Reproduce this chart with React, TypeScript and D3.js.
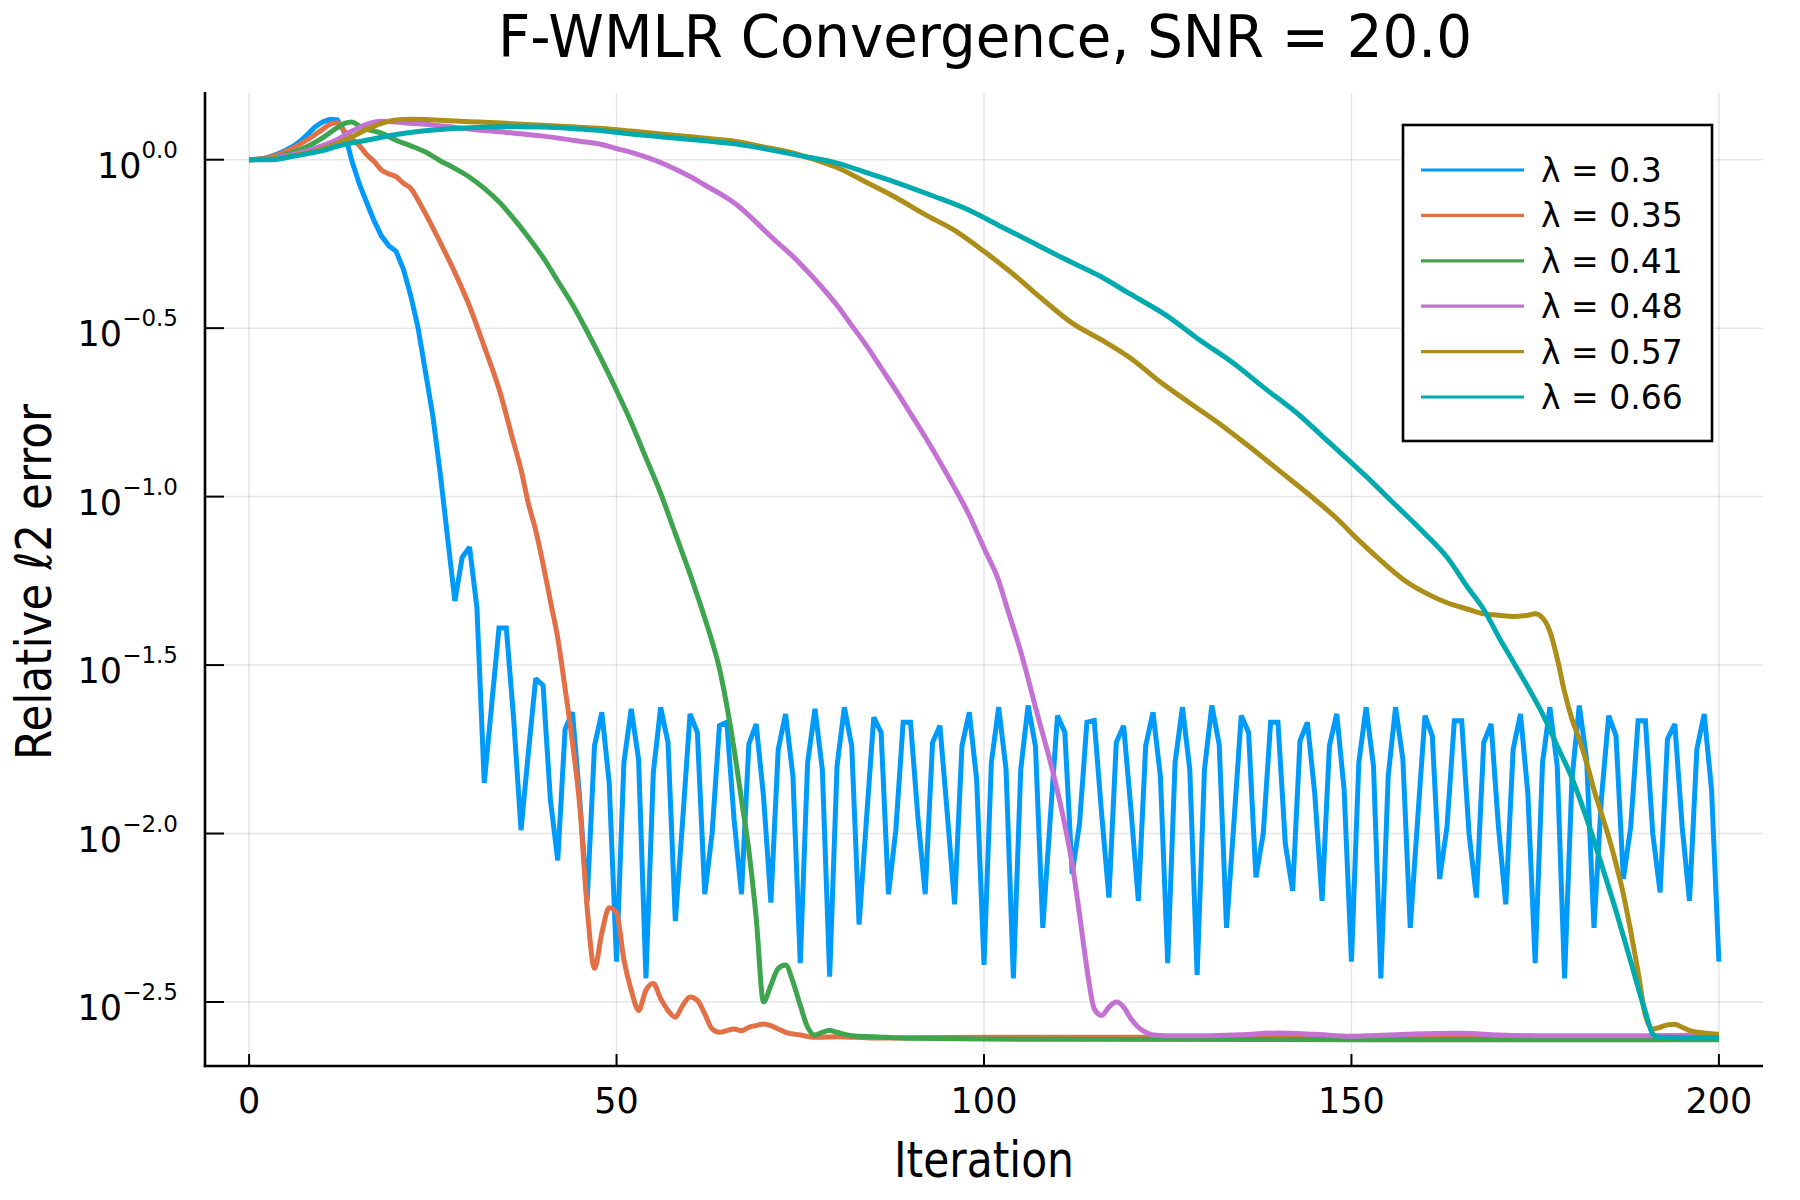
import * as React from 'react';
import * as d3 from 'd3';

// legend / series setup
const lambdas = ['0.3', '0.35', '0.41', '0.48', '0.57', '0.66'];
const colors = ['#009AFA', '#E36F47', '#3EA44E', '#C371D2', '#AC8E18', '#00AAAE'];

const xTicks = [0, 50, 100, 150, 200];
const yTickExps = [0, -0.5, -1, -1.5, -2, -2.5];
const yTickLabels = ['0.0', '\u22120.5', '\u22121.0', '\u22121.5', '\u22122.0', '\u22122.5'];

// log10 of relative error, one value per iteration 0..200 (lambda = 0.3)
const blueLog: number[] = [
  0, 0.001, 0.004, 0.01, 0.018, 0.028, 0.04, 0.056, 0.076, 0.098,
  0.112, 0.12, 0.118, 0.08, -0.005, -0.072, -0.127, -0.181, -0.226, -0.255,
  -0.272, -0.325, -0.404, -0.5, -0.63, -0.76, -0.93, -1.12, -1.31, -1.18,
  -1.15, -1.33, -1.85, -1.62, -1.39, -1.39, -1.66, -1.99, -1.76, -1.54,
  -1.56, -1.9, -2.08, -1.69, -1.64, -1.9, -2.2, -1.74, -1.64, -1.85,
  -2.38, -1.79, -1.63, -1.78, -2.43, -1.82, -1.625, -1.73, -2.26, -1.96,
  -1.645, -1.7, -2.18, -2.0, -1.68, -1.67, -1.96, -2.18, -1.735, -1.675,
  -1.89, -2.205, -1.75, -1.645, -1.83, -2.385, -1.79, -1.63, -1.81, -2.425,
  -1.8, -1.625, -1.74, -2.27, -1.96, -1.655, -1.7, -2.18, -1.99, -1.67,
  -1.67, -1.95, -2.18, -1.73, -1.68, -1.94, -2.21, -1.74, -1.64, -1.84,
  -2.39, -1.79, -1.625, -1.81, -2.43, -1.81, -1.62, -1.74, -2.28, -1.96,
  -1.65, -1.7, -2.12, -1.97, -1.67, -1.665, -1.94, -2.19, -1.73, -1.68,
  -1.93, -2.2, -1.74, -1.64, -1.83, -2.385, -1.79, -1.625, -1.81, -2.42,
  -1.81, -1.62, -1.735, -2.28, -1.97, -1.65, -1.7, -2.13, -2.0, -1.67,
  -1.67, -2.03, -2.17, -1.725, -1.67, -1.88, -2.2, -1.74, -1.645, -1.87,
  -2.38, -1.79, -1.625, -1.8, -2.43, -1.83, -1.625, -1.78, -2.28, -1.96,
  -1.65, -1.71, -2.135, -1.98, -1.665, -1.665, -2.0, -2.19, -1.73, -1.675,
  -1.98, -2.21, -1.75, -1.645, -1.88, -2.385, -1.79, -1.625, -1.8, -2.43,
  -1.84, -1.62, -1.78, -2.28, -1.9, -1.65, -1.71, -2.135, -1.98, -1.665,
  -1.665, -2.0, -2.175, -1.72, -1.675, -1.98, -2.2, -1.75, -1.645, -1.87,
  -2.38,
];

// [iteration, log10 error] (lambda = 0.35)
const redPts: [number, number][] = [
  [0, 0], [2, 0.004], [4, 0.015], [6, 0.035], [8, 0.06], [10, 0.09], [11, 0.105],
  [12, 0.11], [13, 0.085], [14, 0.062], [15, 0.042], [16, 0.015], [17, -0.005],
  [18, -0.03], [19, -0.042], [20, -0.05], [21, -0.07], [22, -0.085], [23, -0.12],
  [24, -0.16], [26, -0.245], [28, -0.335], [30, -0.435], [32, -0.555], [34, -0.68],
  [36, -0.84], [37, -0.92], [38, -1.02], [39, -1.1], [40, -1.2], [41, -1.31],
  [42, -1.42], [43, -1.57], [44, -1.73], [45, -1.92], [46, -2.22], [47, -2.4],
  [48, -2.295], [49, -2.22], [50, -2.235], [51, -2.375], [52, -2.465], [53, -2.525],
  [54, -2.465], [55, -2.445], [56, -2.49], [57, -2.525], [58, -2.545], [59, -2.51],
  [60, -2.485], [61, -2.495], [62, -2.535], [63, -2.58], [64, -2.59], [65, -2.585],
  [66, -2.58], [67, -2.585], [68, -2.575], [69, -2.57], [70, -2.565], [71, -2.57],
  [72, -2.58], [73, -2.59], [75, -2.598], [77, -2.605], [80, -2.603], [85, -2.607],
  [90, -2.606], [100, -2.605], [120, -2.605], [150, -2.605], [180, -2.605], [200, -2.605],
];

// lambda = 0.41
const greenPts: [number, number][] = [
  [0, 0], [2, 0.003], [4, 0.01], [6, 0.022], [8, 0.04], [10, 0.065], [12, 0.095],
  [13, 0.108], [14, 0.112], [15, 0.1], [16, 0.091], [18, 0.079], [20, 0.058],
  [22, 0.041], [24, 0.023], [26, -0.003], [28, -0.026], [30, -0.052], [32, -0.085],
  [34, -0.125], [36, -0.175], [38, -0.23], [40, -0.29], [42, -0.36], [44, -0.43],
  [46, -0.51], [48, -0.595], [50, -0.685], [52, -0.78], [54, -0.885], [56, -0.99],
  [58, -1.11], [60, -1.23], [62, -1.36], [63, -1.43], [64, -1.51], [65, -1.62],
  [66, -1.75], [67, -1.9], [68, -2.05], [69, -2.25], [70, -2.5], [71, -2.45],
  [72, -2.4], [73, -2.39], [74, -2.44], [75, -2.51], [76, -2.575], [77, -2.598],
  [78, -2.59], [79, -2.585], [80, -2.59], [82, -2.6], [85, -2.603], [90, -2.608],
  [100, -2.61], [150, -2.612], [200, -2.612],
];

// lambda = 0.48
const purplePts: [number, number][] = [
  [0, 0], [2, 0.002], [4, 0.008], [6, 0.016], [8, 0.027], [10, 0.042], [12, 0.06],
  [14, 0.085], [16, 0.105], [18, 0.114], [20, 0.112], [22, 0.108], [24, 0.105],
  [26, 0.101], [28, 0.096], [30, 0.091], [35, 0.081], [40, 0.07], [45, 0.055],
  [48, 0.045], [50, 0.033], [52, 0.022], [55, 0.0], [57, -0.018], [60, -0.05],
  [62, -0.075], [64, -0.1], [66, -0.128], [68, -0.165], [70, -0.207], [72, -0.248],
  [74, -0.287], [76, -0.332], [78, -0.38], [80, -0.432], [82, -0.492], [84, -0.552],
  [86, -0.618], [88, -0.684], [90, -0.753], [92, -0.823], [94, -0.897], [96, -0.974],
  [98, -1.056], [100, -1.153], [102, -1.25], [103, -1.32], [104, -1.39], [105, -1.46],
  [106, -1.54], [107, -1.625], [108, -1.705], [109, -1.785], [110, -1.875],
  [111, -1.975], [112, -2.09], [113, -2.24], [114, -2.4], [115, -2.52], [116, -2.54],
  [117, -2.515], [118, -2.5], [119, -2.515], [120, -2.55], [121, -2.575], [122, -2.59],
  [123, -2.598], [125, -2.6], [130, -2.6], [135, -2.597], [140, -2.592], [145, -2.596],
  [150, -2.602], [155, -2.598], [160, -2.594], [165, -2.593], [170, -2.598],
  [175, -2.6], [180, -2.6], [190, -2.6], [200, -2.598],
];

// lambda = 0.57
const olivePts: [number, number][] = [
  [0, 0], [2, 0.001], [4, 0.005], [6, 0.012], [8, 0.02], [10, 0.032], [12, 0.048],
  [14, 0.068], [16, 0.09], [18, 0.108], [20, 0.118], [22, 0.12], [24, 0.119],
  [26, 0.117], [30, 0.113], [35, 0.108], [40, 0.102], [45, 0.096], [48, 0.093],
  [52, 0.085], [56, 0.076], [60, 0.068], [64, 0.06], [66, 0.055], [70, 0.038],
  [74, 0.02], [77, 0.0], [80, -0.023], [84, -0.067], [88, -0.112], [92, -0.163],
  [96, -0.21], [100, -0.272], [104, -0.34], [108, -0.415], [112, -0.485], [116, -0.535],
  [120, -0.59], [124, -0.66], [128, -0.722], [132, -0.783], [136, -0.85], [140, -0.92],
  [144, -0.99], [148, -1.065], [151, -1.13], [154, -1.19], [157, -1.245], [160, -1.285],
  [163, -1.315], [166, -1.335], [168, -1.348], [170, -1.352], [172, -1.356],
  [174, -1.352], [175, -1.348], [176, -1.36], [177, -1.4], [178, -1.48], [179, -1.58],
  [180, -1.66], [181, -1.72], [182, -1.79], [183, -1.87], [184, -1.94], [185, -2.01],
  [186, -2.09], [187, -2.18], [188, -2.29], [189, -2.41], [190, -2.54], [191, -2.58],
  [192, -2.575], [193, -2.568], [194, -2.566], [195, -2.575], [196, -2.585],
  [198, -2.592], [200, -2.596],
];

// lambda = 0.66
const tealPts: [number, number][] = [
  [0, 0], [3, 0.0], [6, 0.01], [8, 0.018], [10, 0.027], [12, 0.04], [14, 0.05],
  [17, 0.062], [20, 0.075], [23, 0.084], [26, 0.09], [30, 0.095], [35, 0.098],
  [40, 0.097], [45, 0.091], [48, 0.086], [52, 0.076], [57, 0.066], [62, 0.056],
  [66, 0.047], [70, 0.033], [75, 0.012], [80, -0.01], [84, -0.038], [88, -0.067],
  [93, -0.107], [98, -0.15], [102, -0.195], [107, -0.25], [111, -0.295], [116, -0.348],
  [120, -0.4], [125, -0.465], [129, -0.53], [134, -0.605], [138, -0.675], [143, -0.76],
  [147, -0.84], [152, -0.94], [156, -1.025], [160, -1.11], [163, -1.18], [166, -1.275],
  [168, -1.335], [170, -1.415], [172, -1.49], [174, -1.565], [176, -1.645],
  [178, -1.74], [180, -1.835], [182, -1.955], [184, -2.09], [186, -2.23], [188, -2.38],
  [190, -2.53], [191, -2.595], [192, -2.605], [195, -2.606], [200, -2.606],
];

const FONT = 'DejaVu Sans';

const App = () => {
  const width = 1800;
  const height = 1200;
  const plot = { left: 205, right: 1763, top: 93, bottom: 1066 };

  const x = d3.scaleLinear().domain([-6, 206]).range([plot.left, plot.right]);
  const y = d3
    .scaleLog()
    .domain([10 ** -2.69, 10 ** 0.198])
    .range([plot.bottom, plot.top]);

  // blue is sampled every iteration, the others are drawn as smooth curves
  const zigzag = d3
    .line<[number, number]>()
    .x((d) => x(d[0]))
    .y((d) => y(10 ** d[1]));
  const smooth = d3
    .line<[number, number]>()
    .x((d) => x(d[0]))
    .y((d) => y(10 ** d[1]))
    .curve(d3.curveMonotoneX);

  const series: [number, number][][] = [
    blueLog.map((v, i) => [i, v] as [number, number]),
    redPts,
    greenPts,
    purplePts,
    olivePts,
    tealPts,
  ];

  const legend = { x: 1403, y: 125, w: 309, h: 316, row0: 170, step: 45.4 };

  return (
    <div style={{ position: 'absolute', left: 0, top: 0 }}>
      <svg width={width} height={height} style={{ display: 'block', background: '#fff' }} fontFamily={FONT}>
        <rect width={width} height={height} fill="#fff" />

        {/* grid */}
        <g stroke="#000" strokeOpacity={0.1} strokeWidth={1.5}>
          {xTicks.map((t) => (
            <line key={'gx' + t} x1={x(t)} x2={x(t)} y1={plot.top} y2={plot.bottom} />
          ))}
          {yTickExps.map((e) => (
            <line key={'gy' + e} x1={plot.left} x2={plot.right} y1={y(10 ** e)} y2={y(10 ** e)} />
          ))}
        </g>

        {/* series */}
        <g fill="none" strokeWidth={5} strokeLinejoin="miter" strokeMiterlimit={2}>
          {series.map((s, k) => (
            <path key={'s' + k} d={(k === 0 ? zigzag(s) : smooth(s)) || ''} stroke={colors[k]} />
          ))}
        </g>

        {/* axes */}
        <g stroke="#000" strokeWidth={2.6} fill="none">
          <line x1={plot.left} x2={plot.left} y1={plot.top - 1} y2={plot.bottom + 1.3} />
          <line x1={plot.left - 1.3} x2={plot.right} y1={plot.bottom} y2={plot.bottom} />
        </g>
        <g stroke="#000" strokeWidth={2}>
          {xTicks.map((t) => (
            <line key={'tx' + t} x1={x(t)} x2={x(t)} y1={plot.bottom} y2={plot.bottom - 12} />
          ))}
          {yTickExps.map((e) => (
            <line key={'ty' + e} x1={plot.left} x2={plot.left + 19} y1={y(10 ** e)} y2={y(10 ** e)} />
          ))}
        </g>

        {/* tick labels */}
        {xTicks.map((t) => (
          <text key={'lx' + t} x={x(t)} y={1113} fontSize={35} textAnchor="middle" fill="#000">
            {t}
          </text>
        ))}
        {yTickExps.map((e, k) => (
          <text key={'ly' + e} x={178} y={y(10 ** e) + 18} textAnchor="end" fill="#000">
            <tspan fontSize={35}>10</tspan>
            <tspan fontSize={23} dy={-20}>
              {yTickLabels[k]}
            </tspan>
          </text>
        ))}

        {/* title and axis labels */}
        <text
          x={985}
          y={57}
          fontSize={59}
          textAnchor="middle"
          textLength={974}
          lengthAdjust="spacingAndGlyphs"
          fill="#000"
        >
          F-WMLR Convergence, SNR = 20.0
        </text>
        <text
          x={984}
          y={1177}
          fontSize={50}
          textAnchor="middle"
          textLength={180}
          lengthAdjust="spacingAndGlyphs"
          fill="#000"
        >
          Iteration
        </text>
        <text
          transform="translate(51, 582) rotate(-90)"
          fontSize={50}
          textAnchor="middle"
          textLength={356}
          lengthAdjust="spacingAndGlyphs"
          fill="#000"
        >
          Relative ℓ2 error
        </text>

        {/* legend */}
        <rect x={legend.x} y={legend.y} width={legend.w} height={legend.h} fill="#fff" stroke="#000" strokeWidth={2.6} />
        {lambdas.map((l, k) => {
          const ry = legend.row0 + k * legend.step;
          return (
            <g key={'lg' + k}>
              <line x1={1421} x2={1524} y1={ry} y2={ry} stroke={colors[k]} strokeWidth={3.2} />
              <text x={1541} y={ry + 12} fontSize={33} fill="#000">
                λ = {l}
              </text>
            </g>
          );
        })}
      </svg>
    </div>
  );
};

export default App;
